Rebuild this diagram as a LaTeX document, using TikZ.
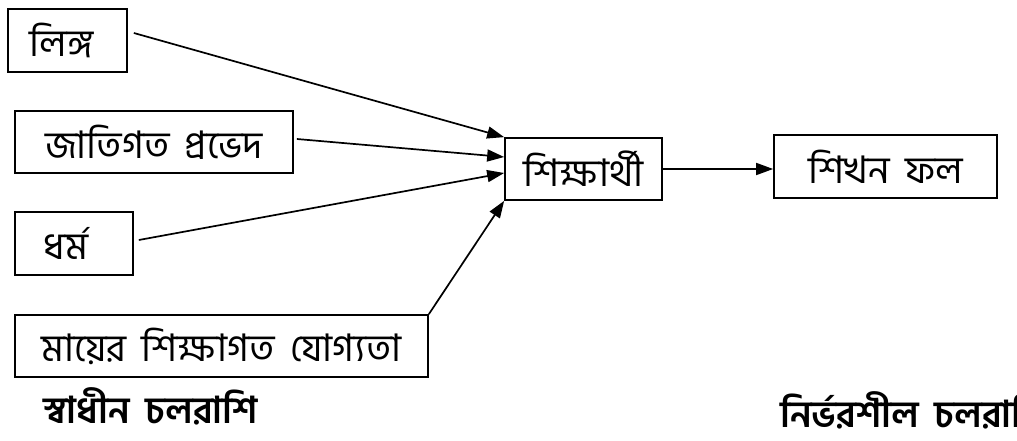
\documentclass[tikz,border=0pt]{standalone}
\usepackage{fontspec}
\newfontfamily\bn[Script=Bengali,WordSpace=1.8]{Hind Siliguri}
\usetikzlibrary{arrows.meta}
\begin{document}
\begin{tikzpicture}[x=1pt,y=-1pt,
  box/.style={draw, line width=1.7pt, inner sep=0pt,
    font=\bn\fontsize{38}{44}\selectfont},
  link/.style={line width=1.7pt, -{Triangle[length=17pt,width=12pt]}},
  caption/.style={anchor=west, inner sep=0pt,
    font=\bn\bfseries\fontsize{37}{44}\selectfont}]
\useasboundingbox (0,0) rectangle (1017,441);

% independent variables
\node[box, minimum width=119, minimum height=63] (ling)   at (67.5,40.5) {\hspace*{-12pt}লিঙ্গ};
\node[box, minimum width=278, minimum height=62] (jati)   at (154,142)   {জাতিগত প্রভেদ};
\node[box, minimum width=118, minimum height=63] (dharma) at (74,243.5)  {\hspace*{-16pt}ধর্ম};
\node[box, minimum width=413, minimum height=62] (maa)    at (221.5,346) {মায়ের শিক্ষাগত যোগ্যতা};

% learner and outcome
\node[box, minimum width=157, minimum height=62] (shik) at (583.5,169)  {শিক্ষার্থী};
\node[box, minimum width=223, minimum height=63] (phal) at (885.5,166.5) {শিখন ফল};

% connectors
\draw[link] ([shift={(6pt,7.5pt)}]ling.east)   -- (shik.north west);
\draw[link] ([shift={(3pt,3pt)}]jati.east)     -- ([yshift=12pt]shik.west);
\draw[link] ([shift={(5pt,3.5pt)}]dharma.east) -- ([yshift=-4pt]shik.west);
\draw[link] (maa.north east) -- (shik.south west);
\draw[link] (shik.east) -- (shik.east -| phal.west);

% captions
\node[caption] (indep) at (43,406) {স্বাধীন চলরাশি};
\node[caption] (dep)   at (780,410) {নির্ভরশীল চলরাশি};
\end{tikzpicture}
\end{document}
